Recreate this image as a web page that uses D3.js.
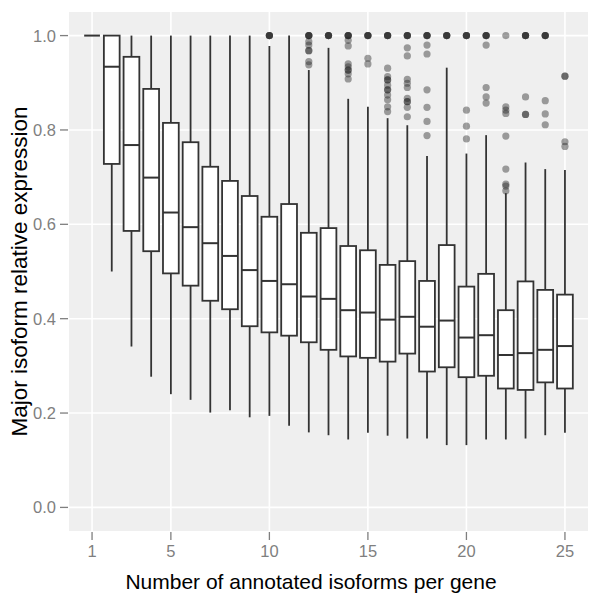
<!DOCTYPE html>
<html>
<head>
<meta charset="utf-8">
<script src="https://cdn.jsdelivr.net/npm/d3@7"></script>
<style>
  html, body { margin: 0; padding: 0; background: #ffffff; }
  svg { display: block; }
</style>
</head>
<body>
<script>
// ---- data ----
const categories = [1,2,3,4,5,6,7,8,9,10,11,12,13,14,15,16,17,18,19,20,21,22,23,24,25];
const whiskerLow = [1.0,0.50,0.341,0.277,0.240,0.228,0.201,0.206,0.191,0.194,0.173,0.159,0.153,0.144,0.158,0.152,0.146,0.146,0.132,0.132,0.144,0.144,0.146,0.153,0.158];
const q1 = [1.0,0.728,0.586,0.543,0.496,0.470,0.438,0.420,0.384,0.371,0.364,0.350,0.334,0.320,0.317,0.309,0.326,0.288,0.297,0.276,0.279,0.252,0.249,0.265,0.252];
const medians = [1.0,0.934,0.768,0.699,0.625,0.594,0.560,0.533,0.503,0.480,0.473,0.447,0.442,0.418,0.413,0.398,0.404,0.383,0.396,0.360,0.365,0.323,0.327,0.334,0.342];
const q3 = [1.0,1.0,0.955,0.887,0.815,0.774,0.722,0.692,0.660,0.616,0.643,0.582,0.592,0.554,0.545,0.514,0.522,0.480,0.556,0.468,0.495,0.418,0.479,0.461,0.451];
const whiskerHigh = [1.0,1.0,1.0,1.0,1.0,1.0,1.0,1.0,1.0,0.978,1.0,0.927,0.974,0.866,0.849,0.825,0.810,0.745,0.932,0.750,0.789,0.666,0.731,0.717,0.715];
const outliers = {
  10: [1,1,1,1],
  12: [1,1,1,1,0.987,0.980,0.968,0.968,0.945,0.938],
  13: [1,1,1,1],
  14: [1,1,1,1,0.990,0.978,0.940,0.934,0.927,0.927,0.919,0.908],
  15: [1,1,1,1,0.952,0.940],
  16: [1,1,1,1,0.931,0.913,0.906,0.906,0.895,0.885,0.885,0.874,0.864,0.849,0.839],
  17: [1,1,1,1,0.974,0.957,0.907,0.899,0.890,0.867,0.860,0.860,0.848,0.828],
  18: [1,1,1,1,0.980,0.961,0.885,0.848,0.818,0.788],
  19: [1,1,1,1],
  20: [1,1,1,1,0.842,0.808,0.781],
  21: [1,1,1,1,0.980,0.890,0.870,0.857],
  22: [1,0.849,0.842,0.835,0.787,0.717,0.685,0.681,0.671],
  23: [1,1,1,1,0.870,0.833,0.833],
  24: [1,1,1,1,0.862,0.834,0.811],
  25: [0.914,0.914,0.775,0.765]
};
const xTicks = [1,5,10,15,20,25];
const yTicks = [0.0,0.2,0.4,0.6,0.8,1.0];
const xTitle = "Number of annotated isoforms per gene";
const yTitle = "Major isoform relative expression";

// ---- layout ----
const W = 601, H = 600;
const panel = {left: 69, top: 12, right: 588, bottom: 531};
const FONT = "'Liberation Sans', Arial, Helvetica, sans-serif";

const x = d3.scaleLinear().domain([1 - 1.17, 25 + 1.17]).range([panel.left, panel.right]);
const y = d3.scaleLinear().domain([-0.05, 1.05]).range([panel.bottom, panel.top]);
const boxW = 0.8;

const svg = d3.select("body").append("svg").attr("width", W).attr("height", H);

// panel background
svg.append("rect")
  .attr("x", panel.left).attr("y", panel.top)
  .attr("width", panel.right - panel.left).attr("height", panel.bottom - panel.top)
  .attr("fill", "#EFEFEF");

// grid lines
const grid = svg.append("g");
grid.selectAll("line.gy").data(yTicks).enter().append("line")
  .attr("x1", panel.left).attr("x2", panel.right)
  .attr("y1", d => y(d)).attr("y2", d => y(d))
  .attr("stroke", "#ffffff").attr("stroke-width", 1.6);
grid.selectAll("line.gx").data(xTicks).enter().append("line")
  .attr("y1", panel.top).attr("y2", panel.bottom)
  .attr("x1", d => x(d)).attr("x2", d => x(d))
  .attr("stroke", "#ffffff").attr("stroke-width", 1.6);

// boxes
const stats = categories.map((c, i) => ({c, lo: whiskerLow[i], q1: q1[i], med: medians[i], q3: q3[i], hi: whiskerHigh[i]}));
const boxes = svg.append("g");
const bw = x(boxW) - x(0);
const SW = 1.8, SC = "#333333";

boxes.selectAll("line.wu").data(stats).enter().append("line")
  .attr("x1", d => x(d.c)).attr("x2", d => x(d.c))
  .attr("y1", d => y(d.q3)).attr("y2", d => y(d.hi))
  .attr("stroke", SC).attr("stroke-width", SW);
boxes.selectAll("line.wl").data(stats).enter().append("line")
  .attr("x1", d => x(d.c)).attr("x2", d => x(d.c))
  .attr("y1", d => y(d.q1)).attr("y2", d => y(d.lo))
  .attr("stroke", SC).attr("stroke-width", SW);
boxes.selectAll("rect.box").data(stats).enter().append("rect")
  .attr("x", d => x(d.c) - bw / 2).attr("width", bw)
  .attr("y", d => y(d.q3)).attr("height", d => y(d.q1) - y(d.q3))
  .attr("fill", "#ffffff").attr("stroke", SC).attr("stroke-width", SW);
boxes.selectAll("line.med").data(stats).enter().append("line")
  .attr("x1", d => x(d.c) - bw / 2).attr("x2", d => x(d.c) + bw / 2)
  .attr("y1", d => y(d.med)).attr("y2", d => y(d.med))
  .attr("stroke", SC).attr("stroke-width", 2);

// outliers
const pts = [];
Object.keys(outliers).forEach(k => outliers[k].forEach(v => pts.push({c: +k, v})));
svg.append("g").selectAll("circle").data(pts).enter().append("circle")
  .attr("cx", d => x(d.c)).attr("cy", d => y(d.v)).attr("r", 3.6)
  .attr("fill", "#222222").attr("fill-opacity", 0.42);

// axes
const tickCol = "#7F7F7F";
const ax = svg.append("g");
ax.selectAll("line.ty").data(yTicks).enter().append("line")
  .attr("x1", panel.left - 9).attr("x2", panel.left - 1)
  .attr("y1", d => y(d)).attr("y2", d => y(d))
  .attr("stroke", tickCol).attr("stroke-width", 1.3);
ax.selectAll("text.ty").data(yTicks).enter().append("text")
  .attr("x", panel.left - 13).attr("y", d => y(d)).attr("dy", "0.36em")
  .attr("text-anchor", "end")
  .attr("font-family", FONT).attr("font-size", 16.5).attr("fill", tickCol)
  .text(d => d3.format(".1f")(d));
ax.selectAll("line.tx").data(xTicks).enter().append("line")
  .attr("x1", d => x(d)).attr("x2", d => x(d))
  .attr("y1", panel.bottom + 1).attr("y2", panel.bottom + 9)
  .attr("stroke", tickCol).attr("stroke-width", 1.3);
ax.selectAll("text.tx").data(xTicks).enter().append("text")
  .attr("x", d => x(d)).attr("y", panel.bottom + 26)
  .attr("text-anchor", "middle")
  .attr("font-family", FONT).attr("font-size", 16.5).attr("fill", tickCol)
  .text(d => d);

// titles
svg.append("text")
  .attr("x", 311).attr("y", 589)
  .attr("text-anchor", "middle")
  .attr("font-family", FONT).attr("font-size", 21).attr("fill", "#000000")
  .text(xTitle);
svg.append("text")
  .attr("transform", `translate(27, ${(panel.top + panel.bottom) / 2}) rotate(-90)`)
  .attr("text-anchor", "middle")
  .attr("font-family", FONT).attr("font-size", 22.5).attr("fill", "#000000")
  .text(yTitle);
</script>
</body>
</html>
